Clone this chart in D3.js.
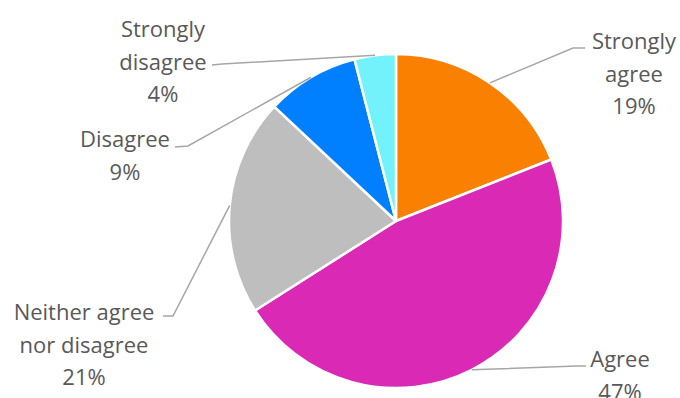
<!DOCTYPE html>
<html lang="en">
<head>
<meta charset="UTF-8" />
<title>Agreement pie</title>
<script src="https://d3js.org/d3.v7.min.js"></script>
<style>
    html, body { margin: 0; padding: 0; background: #fff; }
    svg { display: block; }
    .label { font-family: "Open Sans", sans-serif; font-weight: 400; font-size: 22px; fill: #595959; }
</style>
</head>
<body>
<svg id="chart" width="680" height="398"></svg>
<script>
    // data
    const categories = ["Strongly agree", "Agree", "Neither agree nor disagree", "Disagree", "Strongly disagree"];
    const values = [19, 47, 21, 9, 4];
    const labelLines = [
        ["Strongly", "agree"],
        ["Agree"],
        ["Neither agree", "nor disagree"],
        ["Disagree"],
        ["Strongly", "disagree"]
    ];

    // look
    const colors = ["#F98000", "#DA2AB5", "#BEBEBE", "#0080FE", "#74F2FC"];
    // label placement (centre x, first baseline) and where the leader hooks in
    const labelPos = [
        { x: 634, y: 49, elbow: [573, 48], hook: [585, 48] },
        { x: 620, y: 367, elbow: [577, 366], hook: [586, 366] },
        { x: 84, y: 320, elbow: [173, 316], hook: [163, 316] },
        { x: 125, y: 147, elbow: [188, 146], hook: [175, 147] },
        { x: 163, y: 37, elbow: [222, 64], hook: [212, 65] }
    ];

    const cx = 396, cy = 221, radius = 167, lineGap = 32.5;

    const svg = d3.select("#chart");
    const g = svg.append("g").attr("transform", `translate(${cx},${cy})`);

    const pie = d3.pie().sort(null).value(d => d)(values);
    const arc = d3.arc().innerRadius(0).outerRadius(radius);

    g.selectAll("path.slice")
        .data(pie)
        .join("path")
        .attr("class", "slice")
        .attr("d", arc)
        .attr("fill", (d, i) => colors[i])
        .attr("stroke", "#fff")
        .attr("stroke-width", 2.5)
        .attr("stroke-linejoin", "round");

    // leader lines from the arc edge at each slice's middle angle
    const total = d3.sum(values);
    pie.forEach((d, i) => {
        const a = (d.startAngle + d.endAngle) / 2;
        const p0 = [cx + radius * Math.sin(a), cy - radius * Math.cos(a)];
        const lp = labelPos[i];
        svg.append("path")
            .attr("d", d3.line()([p0, lp.elbow, lp.hook]))
            .attr("fill", "none")
            .attr("stroke", "#A6A6A6")
            .attr("stroke-width", 1.5);

        const lines = labelLines[i].concat([Math.round(values[i] / total * 100) + "%"]);
        const t = svg.append("text")
            .attr("class", "label")
            .attr("text-anchor", "middle");
        lines.forEach((s, k) => {
            t.append("tspan")
                .attr("x", lp.x)
                .attr("y", lp.y + k * lineGap)
                .text(s);
        });
    });
</script>
</body>
</html>
